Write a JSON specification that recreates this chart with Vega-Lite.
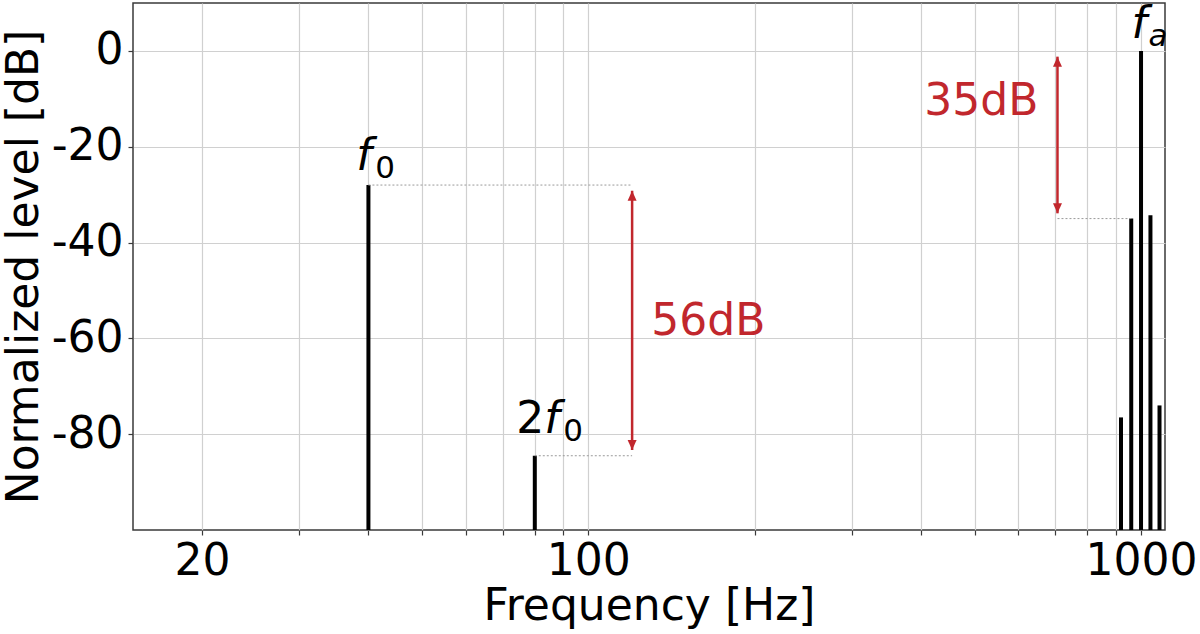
{
  "$schema": "https://vega.github.io/schema/vega-lite/v6.json",
  "width": 1032,
  "height": 527,
  "autosize": {"type": "none"},
  "padding": {"left": 133, "top": 3, "right": 35, "bottom": 104},
  "background": "white",
  "config": {
    "font": "DejaVu Sans",
    "view": {"stroke": "#3a3a3a", "strokeWidth": 1.5},
    "axis": {
      "labelFont": "DejaVu Sans", "titleFont": "DejaVu Sans",
      "labelFontSize": 44, "titleFontSize": 44, "titleFontWeight": "normal",
      "labelColor": "black", "titleColor": "black",
      "gridColor": "#d0d0d0", "gridWidth": 1.2,
      "tickColor": "#3a3a3a", "tickSize": 5, "tickWidth": 1.2,
      "domain": false
    }
  },
  "datasets": {
    "stems": [
      {"f": 40, "level": -28},
      {"f": 80, "level": -84.5},
      {"f": 920, "level": -76.5},
      {"f": 960, "level": -35},
      {"f": 1000, "level": 0},
      {"f": 1040, "level": -34.3},
      {"f": 1080, "level": -74}
    ],
    "guides": [
      {"f": 40, "f2": 120, "level": -28},
      {"f": 80, "f2": 120, "level": -84.5},
      {"f": 706, "f2": 960, "level": -35}
    ],
    "arrows": [
      {"f": 120, "top": -29.2, "bottom": -83.3},
      {"f": 706, "top": -1.2, "bottom": -33.9}
    ],
    "noteLeft": [{"f": 130, "level": -56.5, "text": "56dB"}],
    "noteRight": [{"f": 652, "level": -10.6, "text": "35dB"}],
    "labels": [
      {"f": 38.04, "level": -24.9, "pre": "", "base": "f", "sub": "0"},
      {"f": 83.25, "level": -79.7, "pre": "2", "base": "f", "sub": "0"},
      {"f": 961, "level": 2.6, "pre": "", "base": "f", "sub": "a"}
    ]
  },
  "layer": [
    {
      "data": {"name": "stems"},
      "mark": {"type": "rule", "color": "black", "strokeWidth": 4},
      "encoding": {
        "x": {
          "field": "f", "type": "quantitative", "title": "Frequency [Hz]",
          "scale": {"type": "log", "domain": [15, 1105], "nice": false},
          "axis": {
            "values": [20, 30, 40, 50, 60, 70, 80, 90, 100, 200, 300, 400, 500, 600, 700, 800, 900, 1000],
            "labelExpr": "indexof([20, 100, 1000], datum.value) >= 0 ? '' + datum.value : ''",
            "labelOverlap": false, "labelBound": false, "labelFlush": false,
            "grid": true, "labelPadding": 4, "titlePadding": 1
          }
        },
        "y": {
          "field": "level", "type": "quantitative", "title": "Normalized level [dB]",
          "scale": {"domain": [-100, 10], "nice": false, "zero": false},
          "axis": {
            "values": [-80, -60, -40, -20, 0],
            "labelExpr": "'' + datum.value",
            "grid": true, "labelPadding": 5, "titlePadding": 5
          }
        },
        "y2": {"datum": -100}
      }
    },
    {
      "data": {"name": "guides"},
      "mark": {"type": "rule", "color": "#9a9a9a", "strokeWidth": 1, "strokeDash": [2, 2]},
      "encoding": {
        "x": {"field": "f", "type": "quantitative", "title": "Frequency [Hz]"},
        "x2": {"field": "f2"},
        "y": {"field": "level", "type": "quantitative", "title": "Normalized level [dB]"}
      }
    },
    {
      "data": {"name": "arrows"},
      "mark": {"type": "rule", "color": "#c1272d", "strokeWidth": 2.5},
      "encoding": {
        "x": {"field": "f", "type": "quantitative", "title": "Frequency [Hz]"},
        "y": {"field": "top", "type": "quantitative", "title": "Normalized level [dB]"},
        "y2": {"field": "bottom"}
      }
    },
    {
      "data": {"name": "arrows"},
      "mark": {"type": "point", "filled": true, "color": "#c1272d", "opacity": 1, "size": 400, "shape": "M0,0 L0.45,1 L-0.45,1 Z"},
      "encoding": {
        "x": {"field": "f", "type": "quantitative", "title": "Frequency [Hz]"},
        "y": {"field": "top", "type": "quantitative", "title": "Normalized level [dB]"}
      }
    },
    {
      "data": {"name": "arrows"},
      "mark": {"type": "point", "filled": true, "color": "#c1272d", "opacity": 1, "size": 400, "shape": "M0,0 L0.45,-1 L-0.45,-1 Z"},
      "encoding": {
        "x": {"field": "f", "type": "quantitative", "title": "Frequency [Hz]"},
        "y": {"field": "bottom", "type": "quantitative", "title": "Normalized level [dB]"}
      }
    },
    {
      "data": {"name": "noteLeft"},
      "mark": {"type": "text", "color": "#c1272d", "fontSize": 44, "font": "DejaVu Sans", "align": "left", "baseline": "middle"},
      "encoding": {
        "x": {"field": "f", "type": "quantitative", "title": "Frequency [Hz]"},
        "y": {"field": "level", "type": "quantitative", "title": "Normalized level [dB]"},
        "text": {"field": "text"}
      }
    },
    {
      "data": {"name": "noteRight"},
      "mark": {"type": "text", "color": "#c1272d", "fontSize": 44, "font": "DejaVu Sans", "align": "right", "baseline": "middle"},
      "encoding": {
        "x": {"field": "f", "type": "quantitative", "title": "Frequency [Hz]"},
        "y": {"field": "level", "type": "quantitative", "title": "Normalized level [dB]"},
        "text": {"field": "text"}
      }
    },
    {
      "data": {"name": "labels"},
      "mark": {"type": "text", "color": "black", "fontSize": 44, "font": "DejaVu Sans", "align": "right", "baseline": "alphabetic"},
      "encoding": {
        "x": {"field": "f", "type": "quantitative", "title": "Frequency [Hz]"},
        "y": {"field": "level", "type": "quantitative", "title": "Normalized level [dB]"},
        "text": {"field": "pre"}
      }
    },
    {
      "data": {"name": "labels"},
      "mark": {"type": "text", "color": "black", "fontSize": 44, "font": "DejaVu Sans", "fontStyle": "italic", "align": "left", "baseline": "alphabetic"},
      "encoding": {
        "x": {"field": "f", "type": "quantitative", "title": "Frequency [Hz]"},
        "y": {"field": "level", "type": "quantitative", "title": "Normalized level [dB]"},
        "text": {"field": "base"}
      }
    },
    {
      "data": {"name": "labels"},
      "transform": [{"filter": "datum.sub == '0'"}],
      "mark": {"type": "text", "color": "black", "fontSize": 31, "font": "DejaVu Sans", "align": "left", "baseline": "alphabetic", "dx": 19, "dy": 8},
      "encoding": {
        "x": {"field": "f", "type": "quantitative", "title": "Frequency [Hz]"},
        "y": {"field": "level", "type": "quantitative", "title": "Normalized level [dB]"},
        "text": {"field": "sub"}
      }
    },
    {
      "data": {"name": "labels"},
      "transform": [{"filter": "datum.sub != '0'"}],
      "mark": {"type": "text", "color": "black", "fontSize": 31, "font": "DejaVu Sans", "fontStyle": "italic", "align": "left", "baseline": "alphabetic", "dx": 17, "dy": 8},
      "encoding": {
        "x": {"field": "f", "type": "quantitative", "title": "Frequency [Hz]"},
        "y": {"field": "level", "type": "quantitative", "title": "Normalized level [dB]"},
        "text": {"field": "sub"}
      }
    }
  ]
}
